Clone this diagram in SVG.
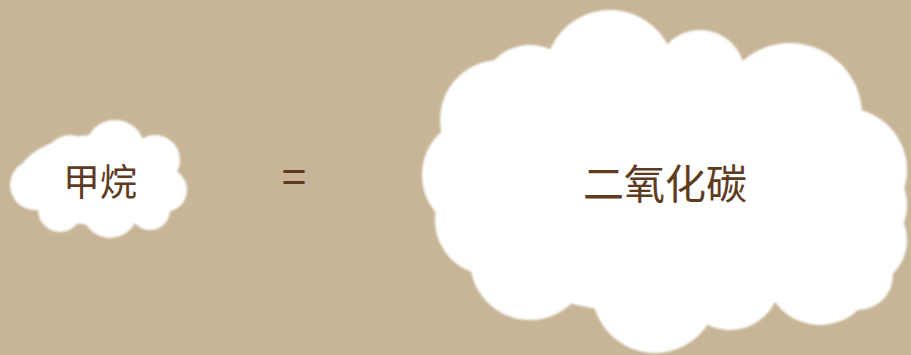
<svg xmlns="http://www.w3.org/2000/svg" width="911" height="355" viewBox="0 0 911 355">
<defs>
<filter id="soft" x="-5%" y="-5%" width="110%" height="110%"><feGaussianBlur stdDeviation="0.8"/></filter>
</defs>
<style>
.cloud{fill:#ffffff}
.lbl{font-family:"Noto Sans CJK SC","Noto Sans",sans-serif;fill:#5e3b1f;text-anchor:middle}
</style>
<rect width="911" height="355" fill="#c8b598"/>
<g id="methane">
<g class="cloud" filter="url(#soft)">
<ellipse cx="97" cy="180" rx="80" ry="45"/>
<circle cx="115" cy="150" r="30"/>
<circle cx="70" cy="160" r="25"/>
<circle cx="155" cy="160" r="25"/>
<circle cx="165" cy="190" r="22"/>
<circle cx="35" cy="185" r="25"/>
<circle cx="110" cy="210" r="28"/>
<circle cx="60" cy="210" r="22"/>
<circle cx="150" cy="210" r="20"/>
</g>
<text class="lbl" x="100" y="196" font-size="37">甲烷</text>
</g>
<g id="equals">
<text class="lbl" x="294" y="193" font-size="44">=</text>
</g>
<g id="co2">
<g class="cloud" filter="url(#soft)">
<ellipse cx="665" cy="185" rx="230" ry="130"/>
<circle cx="610" cy="75" r="65"/>
<circle cx="700" cy="75" r="45"/>
<circle cx="790" cy="115" r="72"/>
<circle cx="845" cy="170" r="62"/>
<circle cx="855" cy="205" r="52"/>
<circle cx="860" cy="240" r="47"/>
<circle cx="858" cy="275" r="35"/>
<circle cx="820" cy="270" r="55"/>
<circle cx="730" cy="280" r="50"/>
<circle cx="655" cy="290" r="63"/>
<circle cx="530" cy="260" r="60"/>
<circle cx="490" cy="220" r="55"/>
<circle cx="480" cy="175" r="58"/>
<circle cx="500" cy="120" r="60"/>
<circle cx="530" cy="95" r="50"/>
</g>
<text class="lbl" x="665" y="199" font-size="41">二氧化碳</text>
</g>
<g id="connectors"/>
</svg>
